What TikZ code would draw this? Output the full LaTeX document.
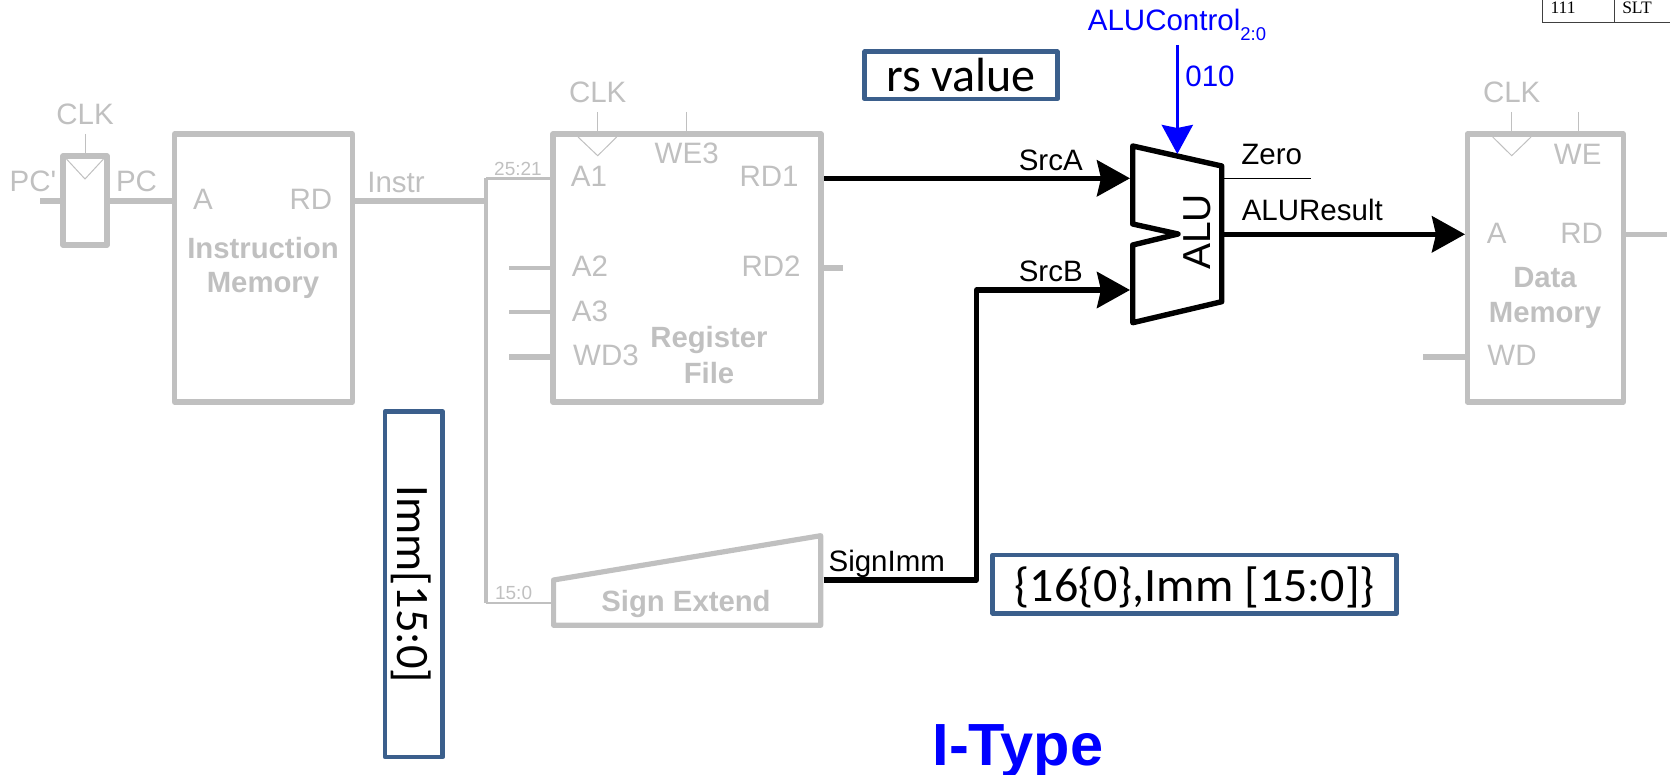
\documentclass[tikz,border=0pt]{standalone}
\usepackage{fontspec}
\setmainfont{Liberation Sans}
\newfontfamily\boxfont{Carlito}
\newfontfamily\tablefont{Liberation Serif}
\usepackage{tikz}
\usetikzlibrary{arrows.meta}
\definecolor{fade}{HTML}{C0C0C0}
\definecolor{boxblue}{HTML}{3B5F8C}
\tikzset{
  block/.style={draw=fade,line width=5.2pt,line join=round,outer sep=0pt,inner sep=0pt},
  note/.style={draw=boxblue,line width=4.6pt,line join=round,outer sep=0pt,inner sep=0pt,text=black,text depth=0pt},
  lab/.style={anchor=base,inner sep=0pt,font=\fontsize{29.5}{30}\selectfont},
  fadelab/.style={lab,text=fade},
  boldlab/.style={lab,text=fade,font=\fontsize{29.3}{30}\selectfont\bfseries},
  tinylab/.style={lab,text=fade,font=\fontsize{19}{20}\selectfont},
  tablelab/.style={lab,font=\fontsize{17.5}{20}\selectfont\tablefont},
  thinwire/.style={draw=fade,line width=1pt},
  wire/.style={draw=fade,line width=5.2pt},
  midwire/.style={draw=fade,line width=3.4pt},
  livewire/.style={draw=black,line width=5.4pt,line join=round},
  bighead/.style={-{Stealth[length=33pt,width=36pt,inset=4pt]}}
}

\begin{document}
\begin{tikzpicture}[x=1pt,y=-1pt]
    \useasboundingbox (0,0) rectangle (1670,775);

    % grey blocks
    \node [block,minimum width=44pt,minimum height=89pt] (ff) at (85,200.5) {};
    \node [block,minimum width=178pt,minimum height=268pt] (imem) at (263.5,268) {};
    \node [block,minimum width=268pt,minimum height=268pt] (rf) at (687,268) {};
    \node [block,minimum width=156pt,minimum height=268pt] (dmem) at (1545.3,268) {};

    \coordinate (ffclk) at (85,134);
    \coordinate (fftop) at (85,156);
    \coordinate (ffa) at (66.5,159);
    \coordinate (ffb) at (85,179);
    \coordinate (ffc) at (103.5,159);
    \coordinate (pcstart) at (40,201);
    \coordinate (ffout) at (107,201);
    \coordinate (ffin) at (63,201);
    \coordinate (ima) at (174.5,201);
    \coordinate (imrd) at (352.5,201);
    \coordinate (split) at (486,201);
    \coordinate (splittop) at (486,178.5);
    \coordinate (splitbot) at (486,603);
    \coordinate (rfa1) at (553,178.5);
    \coordinate (sxin) at (553.6,603);

    \draw [wire] (pcstart) -- (ffin);
    \draw [wire] (ffout) -- (ima);
    \draw [wire] (imrd) -- (split);
    \draw [wire,line width=4.4pt] (splittop) -- (splitbot);
    \draw [midwire,line width=2.6pt] (splittop) -- (rfa1);
    \draw [midwire,line width=2.8pt] (splitbot) -- (sxin);
    \draw [thinwire] (ffclk) -- (fftop);
    \draw [thinwire] (ffa) -- (ffb) -- (ffc);

    % register file pins
    \coordinate (rfclk) at (597.7,112);
    \coordinate (rfclkin) at (597.7,134);
    \coordinate (rfwe) at (686.7,112);
    \coordinate (rfwein) at (686.7,134);
    \coordinate (rfta) at (578,137);
    \coordinate (rftb) at (597.7,155.7);
    \coordinate (rftc) at (616.7,137);
    \coordinate (a2start) at (509,268);
    \coordinate (a2end) at (553,268);
    \coordinate (a3start) at (509,312);
    \coordinate (a3end) at (553,312);
    \coordinate (wd3start) at (509,357);
    \coordinate (wd3end) at (553,357);
    \coordinate (rd2out) at (821,268);
    \coordinate (rd2end) at (843,268);
    \draw [thinwire] (rfclk) -- (rfclkin);
    \draw [thinwire] (rfwe) -- (rfwein);
    \draw [thinwire] (rfta) -- (rftb) -- (rftc);
    \draw [midwire] (a2start) -- (a2end);
    \draw [midwire] (a3start) -- (a3end);
    \draw [wire] (wd3start) -- (wd3end);
    \draw [wire] (rd2out) -- (rd2end);

    % data memory pins
    \coordinate (dmclk) at (1511.7,112);
    \coordinate (dmclkin) at (1511.7,134);
    \coordinate (dmwe) at (1578.3,112);
    \coordinate (dmwein) at (1578.3,134);
    \coordinate (dmta) at (1492.7,137);
    \coordinate (dmtb) at (1511.7,155.7);
    \coordinate (dmtc) at (1531,137);
    \coordinate (wdstart) at (1423,357);
    \coordinate (wdend) at (1467,357);
    \coordinate (rdout) at (1623.3,234.3);
    \coordinate (rdend) at (1667,234.3);
    \draw [thinwire] (dmclk) -- (dmclkin);
    \draw [thinwire] (dmwe) -- (dmwein);
    \draw [thinwire] (dmta) -- (dmtb) -- (dmtc);
    \draw [wire] (wdstart) -- (wdend);
    \draw [wire] (rdout) -- (rdend);

    % sign extend
    \coordinate (sxa) at (553.6,580);
    \coordinate (sxb) at (820.7,535.7);
    \coordinate (sxc) at (820.7,625.3);
    \coordinate (sxd) at (553.6,625.3);
    \draw [block] (sxa) -- (sxb) -- (sxc) -- (sxd) -- cycle;

    % ALU
    \coordinate (alua) at (1132.7,146);
    \coordinate (alub) at (1221.7,166);
    \coordinate (aluc) at (1221.7,301.7);
    \coordinate (alud) at (1132.7,322.7);
    \coordinate (alue) at (1132.7,245);
    \coordinate (aluf) at (1178,234);
    \coordinate (alug) at (1132.7,224);
    \draw [livewire] (alua) -- (alub) -- (aluc) -- (alud) -- (alue) -- (aluf) -- (alug) -- cycle;

    % live wires
    \coordinate (rd1out) at (824,178.3);
    \coordinate (srca) at (1130,178.3);
    \coordinate (sxout) at (823.5,580);
    \coordinate (bendlow) at (976.5,580);
    \coordinate (bendhigh) at (976.5,290);
    \coordinate (srcb) at (1130,290);
    \coordinate (aluout) at (1222,234.3);
    \coordinate (dma) at (1465,234.3);
    \coordinate (zeroout) at (1222,178.3);
    \coordinate (zeroend) at (1310.7,178.3);
    \coordinate (ctlstart) at (1177.3,45);
    \coordinate (ctlend) at (1177.3,154);
    \draw [livewire,bighead] (rd1out) -- (srca);
    \draw [livewire,bighead] (sxout) -- (bendlow) -- (bendhigh) -- (srcb);
    \draw [livewire,bighead] (aluout) -- (dma);
    \draw [line width=1pt] (zeroout) -- (zeroend);
    \draw [blue,line width=3.4pt,-{Stealth[length=29pt,width=31pt,inset=3pt]}] (ctlstart) -- (ctlend);

    % grey labels
    \node [fadelab] (clkfflab) at (85,125) {CLK};
    \node [fadelab] (pcinlab) at (33,192) {PC\textquotesingle};
    \node [fadelab] (pclab) at (136.5,192) {PC};
    \node [fadelab] (imalab) at (203,210) {A};
    \node [fadelab] (imrdlab) at (311,210) {RD};
    \node [boldlab] (imtop) at (263,259) {Instruction};
    \node [boldlab] (imbot) at (263,293) {Memory};
    \node [fadelab] (instrlab) at (396,193) {Instr};
    \node [tinylab] (hilab) at (518,175.5) {25:21};
    \node [tinylab] (lolab) at (513.6,599.5) {15:0};
    \node [fadelab] (rfclklab) at (597.7,103) {CLK};
    \node [fadelab] (we3lab) at (686.7,164) {WE3};
    \node [fadelab] (a1lab) at (589,187) {A1};
    \node [fadelab] (rd1lab) at (769,187) {RD1};
    \node [fadelab] (a2lab) at (590,276.7) {A2};
    \node [fadelab] (rd2lab) at (771,276.7) {RD2};
    \node [fadelab] (a3lab) at (590,321.7) {A3};
    \node [fadelab] (wd3lab) at (606,365.7) {WD3};
    \node [boldlab] (rftop) at (709,348) {Register};
    \node [boldlab] (rfbot) at (709,384) {File};
    \node [boldlab] (sxlab) at (686,611.7) {Sign Extend};
    \node [fadelab] (dmclklab) at (1511.7,103) {CLK};
    \node [fadelab] (welab) at (1577.7,165) {WE};
    \node [fadelab] (dmalab) at (1496.7,244) {A};
    \node [fadelab] (dmrdlab) at (1581.7,244) {RD};
    \node [boldlab] (dmtop) at (1545,288) {Data};
    \node [boldlab] (dmbot) at (1545,323) {Memory};
    \node [fadelab] (wdlab) at (1512,365.7) {WD};

    % black labels
    \node [lab] (srcalab) at (1050.7,170.7) {SrcA};
    \node [lab] (srcblab) at (1050.7,281.7) {SrcB};
    \node [lab] (signimmlab) at (886.8,571.7) {SignImm};
    \node [lab] (zerolab) at (1271.7,165) {Zero};
    \node [lab] (resultlab) at (1312.3,221) {ALUResult};
    \node [lab,rotate=90,font=\fontsize{39}{40}\selectfont] (alulab) at (1210,232) {ALU};

    % blue labels
    \node [lab,text=blue,font=\fontsize{29.5}{30}\selectfont] (ctllab) at (1177,31) {ALUControl{\fontsize{18.5}{20}\selectfont\raisebox{-9.5pt}{2:0}}};
    \node [lab,text=blue] (ctlval) at (1210,87) {010};
    \node [lab,text=blue,font=\fontsize{59.5}{60}\selectfont\bfseries] (typelab) at (1018,765) {I-Type};

    % notes
    \node [note,font=\fontsize{48}{50}\selectfont\boxfont,minimum width=192.6pt,minimum height=47.3pt] (rsnote) at (961,75.3) {rs value};
    \node [note,font=\fontsize{48}{50}\selectfont\boxfont,minimum width=404pt,minimum height=58.3pt] (extnote) at (1194.7,584.2) {\{16\{0\},Imm [15:0]\}};
    \node [note,rotate=-90,font=\fontsize{46.5}{48}\selectfont\boxfont,minimum width=345.3pt,minimum height=57.7pt] (immnote) at (413.9,584.3) {Imm[15:0]};

    % corner of the table
    \coordinate (tabtopa) at (1542.7,0);
    \coordinate (tabcorner) at (1542.7,22.7);
    \coordinate (tabright) at (1670,22.7);
    \coordinate (tabtopb) at (1614.7,0);
    \coordinate (tabmid) at (1614.7,22.7);
    \draw [line width=1.5pt,draw=black!75] (tabtopa) -- (tabcorner) -- (tabright);
    \draw [line width=0.8pt,draw=black!75] (tabtopb) -- (tabmid);
    \node [tablelab] (tabcode) at (1563,14) {111};
    \node [tablelab] (tabname) at (1637,14) {SLT};
\end{tikzpicture}
\end{document}
